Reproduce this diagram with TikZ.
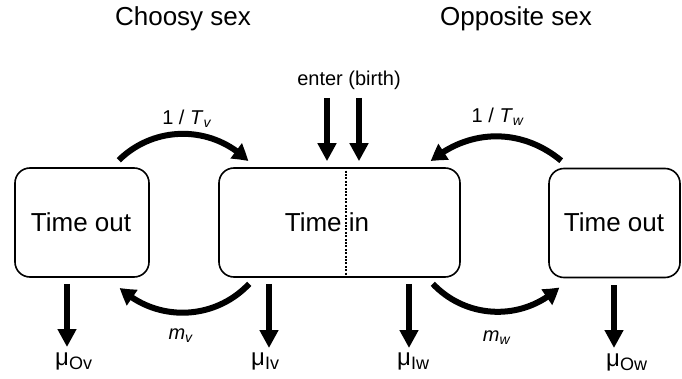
\documentclass[tikz,border=0pt]{standalone}
\usepackage{fontspec}
\setmainfont{Liberation Sans}
\usetikzlibrary{arrows.meta,calc,bending}
\begin{document}
\begin{tikzpicture}[x=1pt,y=-1pt,
  box/.style={draw,line width=1.6pt,rounded corners=15pt,inner sep=0pt},
  boxtext/.style={font=\fontsize{26}{26}\selectfont},
  title/.style={font=\fontsize{26}{26}\selectfont},
  lab/.style={font=\fontsize{20}{20}\selectfont},
  mulab/.style={font=\fontsize{24}{24}\selectfont,inner sep=0pt,anchor=base west},
  downarr/.style={line width=5.5pt,-{Triangle[width=18pt,length=18pt]}},
  curvarr/.style={line width=6pt,-{Triangle[width=18pt,length=16pt,bend]}},
]
\useasboundingbox (0,0) rectangle (682,379);
% titles
\node[title] (tchoosy) at (183,19) {Choosy sex};
\node[title] (topp) at (516,19) {Opposite sex};
% boxes
\node[box,minimum width=134pt,minimum height=109pt] (lo) at (82,222.5) {};
\node[boxtext] (lotext) at (81,222) {Time out};
\node[box,minimum width=241pt,minimum height=109pt] (cin) at (339.5,222.5) {};
\node[boxtext] (cintext) at (327,222) {Time in};
\node[box,minimum width=131pt,minimum height=109pt] (ro) at (614.5,223) {};
\node[boxtext] (rotext) at (614,222) {Time out};
% dotted divider
\draw[line width=2.6pt,dash pattern=on 2pt off 1.4pt] ([shift={(6.5,0)}]cin.north) -- ([shift={(6.5,0)}]cin.south);
% enter
\node[lab] (enter) at (349,80) {enter (birth)};
\draw[downarr] ([shift={(-22,5)}]enter.south) -- ([shift={(-12.5,-6)}]cin.north);
\draw[downarr] ([shift={(10,5)}]enter.south) -- ([shift={(19.5,-6)}]cin.north);
% curved arrows
\draw[curvarr] ([shift={(-31,-7)}]lo.north east) to[bend left=45] ([shift={(30,-6)}]cin.north west);
\draw[curvarr] ([shift={(31,6)}]cin.south west) to[bend left=45] ([shift={(-30,10)}]lo.south east);
\draw[curvarr] ([shift={(13,-7)}]ro.north west) to[bend right=40] ([shift={(-30,-6)}]cin.north east);
\draw[curvarr] ([shift={(-28,6)}]cin.south east) to[bend right=45] ([shift={(11,9)}]ro.south west);
% rate labels
\node[lab] (tv) at (187,119) {1 / \textit{T}\textsubscript{\textit{v}}};
\node[lab] (tw) at (498,117) {1 / \textit{T}\textsubscript{\textit{w}}};
\node[lab] (mv) at (181,336) {\textit{m}\textsubscript{\textit{v}}};
\node[lab] (mw) at (497,338) {\textit{m}\textsubscript{\textit{w}}};
% mortality labels
\node[mulab] (muOv) at (55,365) {μ\raisebox{-4pt}{\fontsize{18}{18}\selectfont Ov}};
\node[mulab] (muIv) at (251,365) {μ\raisebox{-4pt}{\fontsize{18}{18}\selectfont Iv}};
\node[mulab] (muIw) at (397,365) {μ\raisebox{-4pt}{\fontsize{18}{18}\selectfont Iw}};
\node[mulab] (muOw) at (606,366) {μ\raisebox{-4pt}{\fontsize{18}{18}\selectfont Ow}};
\coordinate (tOv) at (67,347);
\coordinate (tIv) at (269,348);
\coordinate (tIw) at (409,348);
\coordinate (tOw) at (614,348);
\draw[downarr] (lo.south -| tOv) ++(0,6) -- (tOv);
\draw[downarr] (cin.south -| tIv) ++(0,6) -- (tIv);
\draw[downarr] (cin.south -| tIw) ++(0,6) -- (tIw);
\draw[downarr] (ro.south -| tOw) ++(0,7) -- (tOw);
\end{tikzpicture}
\end{document}
